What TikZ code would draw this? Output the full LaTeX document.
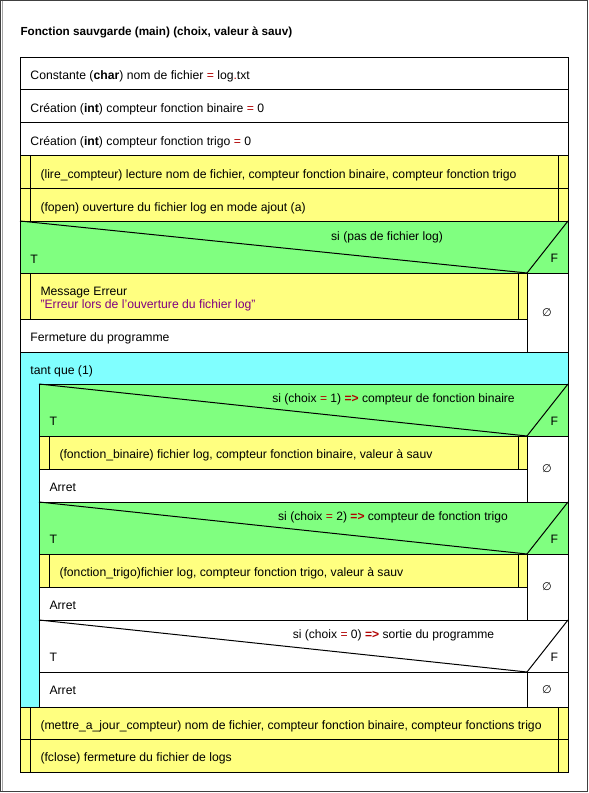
\documentclass[tikz,border=0pt]{standalone}
\usepackage{fontspec}
\setmainfont{Liberation Sans}
\newfontfamily\symfont{DejaVu Sans}
\definecolor{nsgreen}{HTML}{80FF80}
\definecolor{nsyellow}{HTML}{FFFF80}
\definecolor{nscyan}{HTML}{80FFFF}
\definecolor{nsop}{HTML}{B00000}
\definecolor{nsstr}{HTML}{800080}
\newcommand{\opc}[1]{\textcolor{nsop}{#1}}
\begin{document}
\begin{tikzpicture}[x=1pt,y=-1pt,line width=1pt,
  lbl/.style={anchor=base west,inner sep=0pt,font=\fontsize{12.2}{14}\selectfont},
  cond/.style={anchor=base,inner sep=0pt,font=\fontsize{12.1}{14}\selectfont},
  empty/.style={anchor=center,inner sep=0pt,font=\symfont\fontsize{11}{12}\selectfont}]
\useasboundingbox (0,0) rectangle (589,793);
\fill[white] (0,0) rectangle (589,793);

% window frame
\draw[black!75] (0.5,0.5) rectangle (587.5,791.5);
\draw[black!35] (2.5,1) -- (2.5,791);

% title
\node[lbl,font=\bfseries\fontsize{11.7}{14}\selectfont] (title) at (20,35.5) {Fonction sauvgarde (main) (choix, valeur à sauv)};

% declarations
\draw (20,57) rectangle (568,155);
\draw (20,89) -- (568,89);
\draw (20,122) -- (568,122);
\node[lbl] (s1) at (30,79) {Constante (\textbf{char}) nom de fichier \opc{=} log\opc{.}txt};
\node[lbl] (s2) at (30,112) {Création (\textbf{int}) compteur fonction binaire \opc{=} 0};
\node[lbl] (s3) at (30,145) {Création (\textbf{int}) compteur fonction trigo \opc{=} 0};

% calls
\fill[nsyellow] (20,155) rectangle (568,221);
\draw (20,155) rectangle (568,221);
\draw (20,188) -- (568,188);
\draw (30,155) -- (30,221);
\draw (558,155) -- (558,221);
\node[lbl] (s4) at (40,178) {(lire\_compteur) lecture nom de fichier, compteur fonction binaire, compteur fonction trigo};
\node[lbl] (s5) at (40,211) {(fopen) ouverture du fichier log en mode ajout (a)};

% if: no log file
\fill[nsgreen] (20,221) rectangle (568,273);
\draw (20,221) rectangle (568,273);
\draw (20,221) -- (527,273) -- (568,221);
\node[cond] (i1) at (387,240) {si (pas de fichier log)};
\node[lbl] (i1t) at (30,263) {T};
\node[lbl] (i1f) at (550,262) {F};
\fill[nsyellow] (20,273) rectangle (527,319);
\draw (20,273) rectangle (527,319);
\draw (30,273) -- (30,319);
\draw (518,273) -- (518,319);
\node[lbl] (s6) at (40,295) {Message Erreur};
\node[lbl] (s6b) at (40,308.3) {\textcolor{nsstr}{"Erreur lors de l'ouverture du fichier log"}};
\draw (20,319) rectangle (527,352);
\node[lbl] (s7) at (30,341) {Fermeture du programme};
\draw (527,273) rectangle (568,352);
\node[empty] (e1) at (547,312.5) {∅};

% loop
\fill[nscyan] (20,352) rectangle (568,707);
\draw (20,352) rectangle (568,707);
\node[lbl] (w1) at (30,374) {tant que (1)};

% if choix = 1
\fill[nsgreen] (39,384) rectangle (568,436);
\draw (39,384) rectangle (568,436);
\draw (39,384) -- (527,436) -- (568,384);
\node[cond] (i2) at (393.5,402) {si (choix \opc{=} 1) \textbf{\opc{=>}} compteur de fonction binaire};
\node[lbl] (i2t) at (49,425) {T};
\node[lbl] (i2f) at (550,425) {F};
\fill[nsyellow] (39,436) rectangle (527,469);
\draw (39,436) rectangle (527,469);
\draw (49,436) -- (49,469);
\draw (518,436) -- (518,469);
\node[lbl] (s8) at (59,458) {(fonction\_binaire) fichier log, compteur fonction binaire, valeur à sauv};
\fill[white] (39,469) rectangle (527,502);
\draw (39,469) rectangle (527,502);
\node[lbl] (s9) at (49,491) {Arret};
\fill[white] (527,436) rectangle (568,502);
\draw (527,436) rectangle (568,502);
\node[empty] (e2) at (547,469) {∅};

% if choix = 2
\fill[nsgreen] (39,502) rectangle (568,554);
\draw (39,502) rectangle (568,554);
\draw (39,502) -- (527,554) -- (568,502);
\node[cond] (i3) at (393,520) {si (choix \opc{=} 2) \textbf{\opc{=>}} compteur de fonction trigo};
\node[lbl] (i3t) at (49,543) {T};
\node[lbl] (i3f) at (550,543) {F};
\fill[nsyellow] (39,554) rectangle (527,587);
\draw (39,554) rectangle (527,587);
\draw (49,554) -- (49,587);
\draw (518,554) -- (518,587);
\node[lbl] (s10) at (59,576) {(fonction\_trigo)fichier log, compteur fonction trigo, valeur à sauv};
\fill[white] (39,587) rectangle (527,620);
\draw (39,587) rectangle (527,620);
\node[lbl] (s11) at (49,609) {Arret};
\fill[white] (527,554) rectangle (568,620);
\draw (527,554) rectangle (568,620);
\node[empty] (e3) at (547,587) {∅};

% if choix = 0
\fill[white] (39,620) rectangle (568,707);
\draw (39,620) rectangle (568,672);
\draw (39,620) -- (527,672) -- (568,620);
\node[cond] (i4) at (393.5,638.5) {si (choix \opc{=} 0) \textbf{\opc{=>}} sortie du programme};
\node[lbl] (i4t) at (49,661) {T};
\node[lbl] (i4f) at (550,661) {F};
\draw (39,672) rectangle (527,707);
\node[lbl] (s12) at (49,694.5) {Arret};
\draw (527,672) rectangle (568,707);
\node[empty] (e4) at (547,689.5) {∅};

% closing calls
\fill[nsyellow] (20,707) rectangle (568,772);
\draw (20,707) rectangle (568,772);
\draw (20,739) -- (568,739);
\draw (30,707) -- (30,772);
\draw (558,707) -- (558,772);
\node[lbl] (s13) at (40,729) {(mettre\_a\_jour\_compteur) nom de fichier, compteur fonction binaire, compteur fonctions trigo};
\node[lbl] (s14) at (40,761) {(fclose) fermeture du fichier de logs};
\end{tikzpicture}
\end{document}
